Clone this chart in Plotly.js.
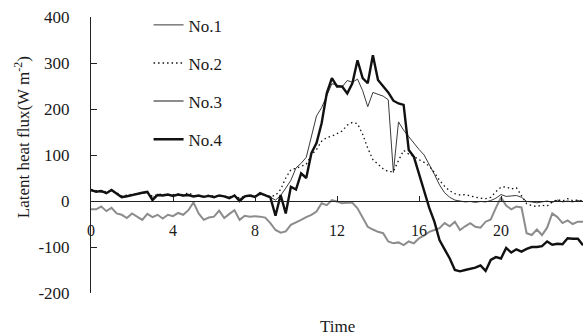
<!DOCTYPE html>
<html>
<head>
<meta charset="utf-8">
<script src="https://cdn.plot.ly/plotly-3.0.1.min.js"></script>
<style>
  html, body { margin: 0; padding: 0; background: #fff; }
  #chart { width: 583px; height: 336px; }
</style>
</head>
<body>
<div id="chart"></div>
<script>
// Time of day (hours), 15-minute steps from 0 to 24
const timeStepHours = 0.25;
const pointCount = 97;
const times = [];
for (let i = 0; i < pointCount; i++) times.push(i * timeStepHours);

const seriesNames = ["No.1", "No.2", "No.3", "No.4"];

const no1 = [22,21,20,18,22, 16,10,12,14,15, 17,18,8,12,13, 12,12,13,11,14,
  11,10,9,12,10, 11,9,8,10,5, 9,12,10,15,12, 8,2,12,28,45,
  72,82,95,140,185, 203,230,255,252,248, 262,258,265,240,205, 236,232,228,220,62,
  172,154,140,125,112, 100,80,58,35,18, 8,2,0,-2,-1, -3,-1,-2,1,6,
  14,10,11,12,8, -1,-2,-4,-2,0, -3,2,-2,0,-2, 1,-1];

const no2 = [25,22,20,21,22, 18,11,13,15,16, 17,19,10,14,15, 13,14,15,13,18,
  12,11,10,13,11, 12,10,9,12,6, 11,13,11,14,13, 10,12,25,50,68,
  71,75,80,100,112, 130,138,141,146,152, 165,171,168,145,115, 90,80,70,64,64,
  88,110,102,97,90, 84,76,62,45,32, 22,16,13,14,11, 8,6,5,8,20,
  30,31,26,29,10, -6,-10,-12,-9,-11, -2,3,0,5,1, 2,0];

const no3 = [-18,-18,-12,-22,-15, -27,-30,-37,-27,-35, -41,-28,-35,-30,-38, -30,-33,-26,-30,-20,
  -3,-27,-41,-36,-34, -21,-37,-28,-20,-41, -32,-34,-33,-34,-36, -48,-63,-69,-66,-52,
  -47,-41,-35,-30,-23, -5,-9,2,-1,-5, -4,-4,-16,-35,-56, -62,-67,-70,-88,-92,
  -90,-96,-88,-92,-81, -75,-67,-63,-59,-48, -55,-45,-63,-55,-48, -56,-58,-45,-40,-15,
  8,-10,-18,-12,-14, -70,-74,-62,-74,-58, -27,-35,-48,-42,-50, -45,-45];

const no4 = [24,20,22,17,24, 15,8,10,13,15, 18,20,2,13,12, 14,11,14,12,13,
  10,12,9,11,8, 12,10,6,12,0, 10,12,9,17,13, 8,-32,13,-27,31,
  25,60,50,104,126, 169,234,267,249,249, 234,256,306,267,256, 317,263,249,236,218,
  212,209,111,96,60, 20,-15,-45,-85,-105, -125,-150,-153,-150,-148, -145,-140,-152,-128,-122,
  -125,-102,-112,-105,-110, -104,-100,-100,-98,-88, -95,-93,-94,-81,-82, -82,-96];

const xTickVals = [0, 4, 8, 12, 16, 20];
const xTickText = ["0", "4", "8", "12", "16", "20"];
const yTickVals = [-200, -100, 0, 100, 200, 300, 400];
const yTickText = ["-200", "-100", "0", "100", "200", "300", "400"];

const serif = "Liberation Serif";

const traces = [
  { x: times, y: no1, name: seriesNames[0], legendgroup: "g1", type: "scatter", mode: "lines",
    line: { color: "#3a3a3a", width: 1 } },
  { x: times, y: no2, name: seriesNames[1], legendgroup: "g2", type: "scatter", mode: "lines",
    line: { color: "#111111", width: 1.3, dash: "1.5px,3px" } },
  { x: times, y: no3, name: seriesNames[2], legendgroup: "g3", type: "scatter", mode: "lines",
    line: { color: "#8c8c8c", width: 2 } },
  { x: times, y: no4, name: seriesNames[3], legendgroup: "g4", type: "scatter", mode: "lines",
    line: { color: "#111111", width: 2.4 } }
];

const layout = {
  width: 583, height: 336,
  margin: { l: 91, r: 0, t: 17, b: 43, pad: 0 },
  paper_bgcolor: "#ffffff", plot_bgcolor: "#ffffff",
  font: { family: serif, color: "#1a1a1a", size: 17 },
  showlegend: true,
  legend: {
    x: 0.117, y: 1.035, xanchor: "left", yanchor: "top",
    bgcolor: "rgba(0,0,0,0)", font: { family: serif, size: 17, color: "#1a1a1a" },
    tracegroupgap: 13
  },
  xaxis: {
    range: [0, 24], anchor: "free", position: 1/3,
    showline: true, linecolor: "#222", linewidth: 1,
    ticks: "inside", ticklen: 5, tickcolor: "#222",
    tickvals: xTickVals, ticktext: xTickText,
    ticklabelstandoff: 15,
    tickfont: { family: serif, size: 16, color: "#1a1a1a" },
    showgrid: false, zeroline: false, fixedrange: true
  },
  yaxis: {
    range: [-200, 400], domain: [0, 1],
    showline: true, linecolor: "#222", linewidth: 1,
    ticks: "inside", ticklen: 6, tickcolor: "#222",
    tickvals: yTickVals, ticktext: yTickText,
    ticklabelstandoff: 17,
    tickfont: { family: serif, size: 17, color: "#1a1a1a" },
    showgrid: false, zeroline: false, fixedrange: true
  },
  annotations: [
    { text: "Latent heat flux(W m<sup>-2</sup>)", textangle: -90,
      xref: "paper", yref: "paper", x: -0.14, y: 0.565,
      xanchor: "center", yanchor: "middle", showarrow: false,
      font: { family: serif, size: 17, color: "#1a1a1a" } },
    { text: "Time", xref: "paper", yref: "paper", x: 0.5, y: -0.123,
      xanchor: "center", yanchor: "middle", showarrow: false,
      font: { family: serif, size: 17, color: "#1a1a1a" } }
  ]
};

Plotly.newPlot("chart", traces, layout, { displayModeBar: false, staticPlot: true });
</script>
</body>
</html>
